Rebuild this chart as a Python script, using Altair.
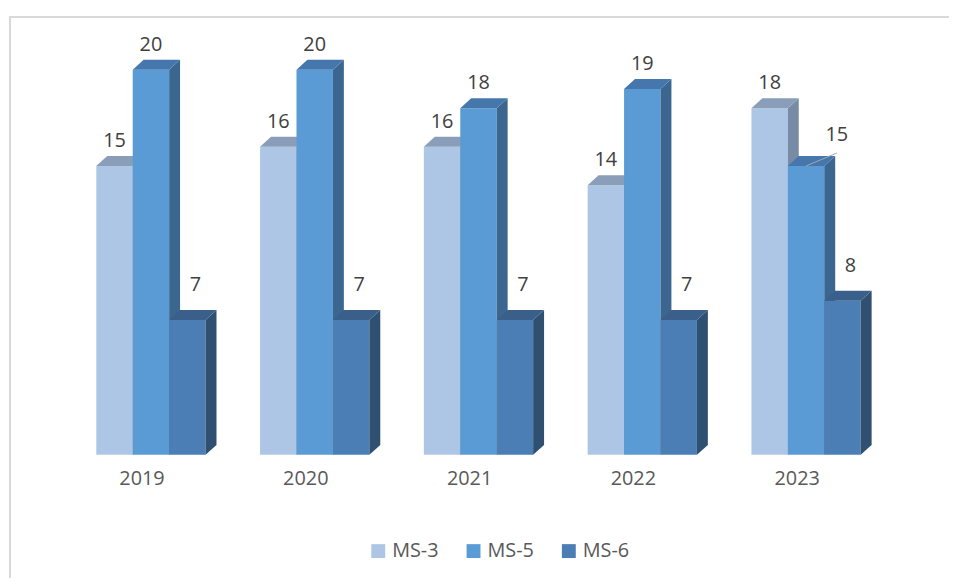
import altair as alt
import pandas as pd

# ---- data ----
years = ["2019", "2020", "2021", "2022", "2023"]
series = ["MS-3", "MS-5", "MS-6"]
ms3 = [15, 16, 16, 14, 18]
ms5 = [20, 20, 18, 19, 15]
ms6 = [7, 7, 7, 7, 8]
values = {"MS-3": ms3, "MS-5": ms5, "MS-6": ms6}

# ---- styling ----
front_colors = ["#adc6e6", "#5b9bd5", "#4a7eb4"]
top_colors = ["#8a9eb9", "#4577ad", "#395f8a"]
side_colors = ["#778ba4", "#3b6690", "#2f5070"]
label_dx = [0, 0, 8]
label_dy = [-25, -25, -35]
FONT = "Open Sans"

W, H = 947, 566
GROUP_PX = 165.0      # pixels between year groups
UNIT_PX = 19.4        # pixels per value unit
BASE_PX = 442.0       # baseline position inside plot
FIRST_PX = 143.0      # first group center inside plot
BAR = 36.7 / GROUP_PX  # bar width in x units
DX = 11 / GROUP_PX     # 3D depth (x)
DY = 10 / UNIT_PX      # 3D depth (y)

xs = alt.Scale(domain=[-FIRST_PX / GROUP_PX, (W - FIRST_PX) / GROUP_PX], nice=False, zero=False)
ys = alt.Scale(domain=[-(H - BASE_PX) / UNIT_PX, BASE_PX / UNIT_PX], nice=False, zero=False)

rows, side_rows, top_rows = [], [], []
for i, yr in enumerate(years):
    for j, s in enumerate(series):
        v = values[s][i]
        x0 = i - 1.5 * BAR + j * BAR
        x1 = x0 + BAR
        bid = f"{yr}-{s}"
        rows.append(dict(year=yr, series=s, v=v, x0=x0, x1=x1, xc=(x0 + x1) / 2, z=0, bar=bid))
        side_rows += [dict(series=s, bar=bid, x=x1, top=v, bot=0),
                      dict(series=s, bar=bid, x=x1 + DX, top=v + DY, bot=DY)]
        top_rows += [dict(series=s, bar=bid, y=v, xl=x0, xr=x1),
                     dict(series=s, bar=bid, y=v + DY, xl=x0 + DX, xr=x1 + DX)]

df = pd.DataFrame(rows)
side_df = pd.DataFrame(side_rows)
top_df = pd.DataFrame(top_rows)
year_df = pd.DataFrame({"year": years, "i": list(range(len(years))), "z": 0})

legend = alt.Legend(orient="none", legendX=362, legendY=529, direction="horizontal", title=None,
                    symbolType="square", symbolSize=196, symbolStrokeWidth=0,
                    labelFontSize=20, labelFont=FONT, labelColor="#595959",
                    columnPadding=25, labelOffset=4)
color = alt.Color("series:N", scale=alt.Scale(domain=series, range=front_colors), legend=legend)

layers = []
for j, s in enumerate(series):
    front = alt.Chart(df).transform_filter(alt.datum.series == s).mark_rect(strokeWidth=0).encode(
        x=alt.X("x0:Q", scale=xs, axis=None), x2="x1:Q",
        y=alt.Y("v:Q", scale=ys, axis=None), y2="z:Q",
        color=color)
    side = alt.Chart(side_df).transform_filter(alt.datum.series == s).mark_area(
        orient="vertical", color=side_colors[j], interpolate="linear").encode(
        x=alt.X("x:Q", scale=xs, axis=None),
        y=alt.Y("top:Q", scale=ys, axis=None), y2="bot:Q",
        detail="bar:N")
    top = alt.Chart(top_df).transform_filter(alt.datum.series == s).mark_area(
        orient="horizontal", color=top_colors[j], interpolate="linear").encode(
        y=alt.Y("y:Q", scale=ys, axis=None),
        x=alt.X("xl:Q", scale=xs, axis=None), x2="xr:Q",
        detail="bar:N")
    layers += [front, side, top]

special = (alt.datum.year == "2023") & (alt.datum.series == "MS-5")

label_layers = []
for j, s in enumerate(series):
    label_layers.append(
        alt.Chart(df).transform_filter((alt.datum.series == s) & ~special).mark_text(
            dx=label_dx[j], dy=label_dy[j], fontSize=20, font=FONT, color="#404040",
            baseline="middle").encode(
            x=alt.X("xc:Q", scale=xs, axis=None), y=alt.Y("v:Q", scale=ys, axis=None), text="v:Q"))

special_label = alt.Chart(df).transform_filter(special).mark_text(
    dx=31, dy=-31, fontSize=20, font=FONT, color="#404040", baseline="middle").encode(
    x=alt.X("xc:Q", scale=xs, axis=None), y=alt.Y("v:Q", scale=ys, axis=None), text="v:Q")

leader = alt.Chart(df).transform_filter(special).mark_rule(
    color="#a6a6a6", strokeWidth=1, x2Offset=31, y2Offset=-13).encode(
    x=alt.X("xc:Q", scale=xs, axis=None), x2="xc:Q",
    y=alt.Y("v:Q", scale=ys, axis=None), y2="v:Q")

year_labels = alt.Chart(year_df).mark_text(
    dx=-9, dy=24, fontSize=20, font=FONT, color="#595959", baseline="middle").encode(
    x=alt.X("i:Q", scale=xs, axis=None), y=alt.Y("z:Q", scale=ys, axis=None), text="year:N")

border_v = alt.Chart(year_df).mark_rule(color="#d9d9d9", strokeWidth=2).encode(
    x=alt.value(1), y=alt.value(0), y2=alt.value(H))
border_h = alt.Chart(year_df).mark_rule(color="#d9d9d9", strokeWidth=2).encode(
    y=alt.value(1), x=alt.value(0), x2=alt.value(W))

chart = alt.layer(border_v, border_h, *layers, *label_layers, special_label, leader, year_labels).properties(
    width=W, height=H, autosize="none",
    padding={"left": 1, "top": 6, "right": 0, "bottom": 0},
    background="white",
).configure_view(stroke=None)

chart.save("out.html", embed_options={"renderer": "svg", "actions": False})
